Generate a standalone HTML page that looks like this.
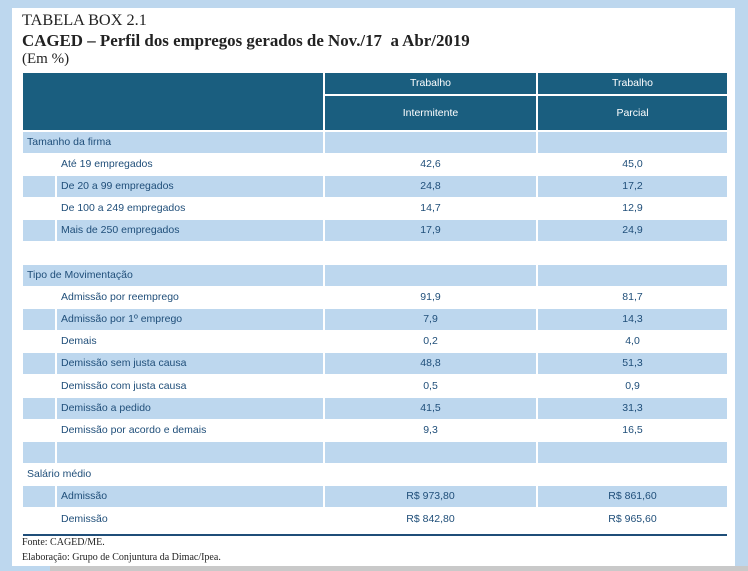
<!DOCTYPE html>
<html><head><meta charset="utf-8"><style>
body{margin:0;width:748px;height:571px;background:#bdd7ee;position:relative;overflow:hidden;font-family:"Liberation Sans",sans-serif}
#panel{position:absolute;left:12px;top:8px;width:723px;height:558px;background:#fff}
#strip{position:absolute;left:50px;top:566px;width:698px;height:5px;background:#c9c9c9}
.c{position:absolute;box-sizing:border-box;font-size:10.5px;color:#1f4e79;line-height:1;display:flex;align-items:center;white-space:nowrap}
.h{background:#1a5e7f;color:#fff;justify-content:center}
.b{background:#bdd7ee}
.n{justify-content:center}
.t{position:absolute;font-family:"Liberation Serif",serif;color:#222;white-space:nowrap}
</style></head><body>
<div id="panel"></div>
<div id="strip"></div>
<div class="t" style="left:22px;top:10px;font-size:16.3px">TABELA BOX 2.1</div>
<div class="t" style="left:22px;top:31px;font-size:16.9px;font-weight:bold">CAGED – Perfil dos empregos gerados de Nov./17&nbsp; a Abr/2019</div>
<div class="t" style="left:22px;top:51px;font-size:15px">(Em %)</div>
<div class="c h" style="left:23px;top:73px;width:300px;height:57px"></div>
<div class="c h" style="left:325px;top:73px;width:211px;height:21px">Trabalho</div>
<div class="c h" style="left:538px;top:73px;width:189px;height:21px">Trabalho</div>
<div class="c h" style="left:325px;top:96px;width:211px;height:34px">Intermitente</div>
<div class="c h" style="left:538px;top:96px;width:189px;height:34px">Parcial</div>
<div id="rows"></div>
<div style="position:absolute;left:23px;top:534px;width:704px;height:2px;background:#1f4e79"></div>
<div class="t" style="left:22px;top:537px;font-size:10px">Fonte: CAGED/ME.</div>
<div class="t" style="left:22px;top:552px;font-size:10px">Elaboração: Grupo de Conjuntura da Dimac/Ipea.</div>
<script>
const rowLabels=["Tamanho da firma","Até 19 empregados","De 20 a 99 empregados","De 100 a 249 empregados","Mais de 250 empregados","","Tipo de Movimentação","Admissão por reemprego","Admissão por 1º emprego","Demais","Demissão sem justa causa","Demissão com justa causa","Demissão a pedido","Demissão por acordo e demais","","Salário médio","Admissão","Demissão"];
const intermitente=["","42,6","24,8","14,7","17,9","","","91,9","7,9","0,2","48,8","0,5","41,5","9,3","","","R$ 973,80","R$ 842,80"];
const parcial=["","45,0","17,2","12,9","24,9","","","81,7","14,3","4,0","51,3","0,9","31,3","16,5","","","R$ 861,60","R$ 965,60"];
const rowTypes=["s","i","i","i","i","e","s","i","i","i","i","i","i","i","ib","sw","i","i"];
const rowTops=[132,154,176,198,220,242,265,287,309,331,353,376,398,420,442,464,486,508];
const rowH=[21,21,21,21,21,22,21,21,21,21,21,21,21,21,21,21,21,23];
const R=document.getElementById('rows');
function cell(x,y,w,h,cls,txt,pad,name){
 const d=document.createElement('div');
 d.className='c '+cls;
 d.style.cssText=`left:${x}px;top:${y}px;width:${w}px;height:${h}px;padding-left:${pad||0}px`;
 d.textContent=txt;
 
 
 R.appendChild(d);
}
let alt=0;
rowLabels.forEach((lab,i)=>{
 const t=rowTypes[i],y=rowTops[i],h=rowH[i];
 let blue;
 if(t==='s'){blue=true;alt=0;}
 else if(t==='e'){blue=false;alt=0;}
 else if(t==='sw'){blue=false;alt=1;}
 else if(t==='ib'){blue=true;}
 else {blue=alt%2===1;alt++;}
 const bc=blue?'b':'';
 if(t==='s'||t==='sw'){cell(23,y,300,h,bc,lab,4,'row-label');}
 else if(t==='e'){return;}
 else {cell(23,y,32,h,bc,'',0,'row-indent');cell(57,y,266,h,bc,lab,4,'row-label');}
 cell(325,y,211,h,bc+' n',intermitente[i],0,'value-intermitente');
 cell(538,y,189,h,bc+' n',parcial[i],0,'value-parcial');
});
</script>
</body></html>
